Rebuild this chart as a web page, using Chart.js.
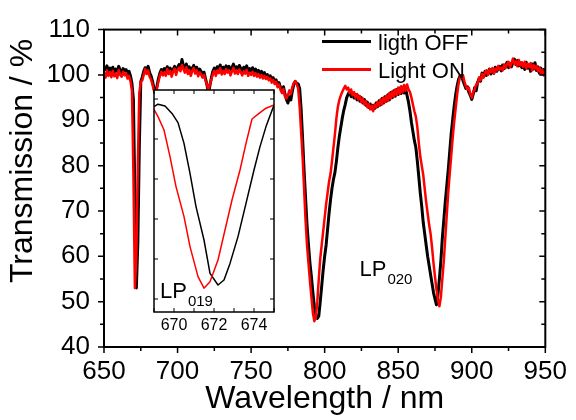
<!DOCTYPE html>
<html>
<head>
<meta charset="utf-8">
<script src="https://cdn.jsdelivr.net/npm/chart.js@4.4.1/dist/chart.umd.min.js"></script>
<style>
  body { margin: 0; background: #fff; }
  #wrap { position: relative; width: 576px; height: 420px; }
  #main { position: absolute; left: 0; top: 0; }
  #inset { position: absolute; left: 144px; top: 85px; }
</style>
</head>
<body>
<div id="wrap">
  <canvas id="main" width="576" height="420"></canvas>
  <canvas id="inset" width="140" height="255"></canvas>
</div>
<script>
// sampling grid of the spectra, 1 nm
var wavelength = [];
for (var w = 650; w <= 950; w++) wavelength.push(w);

// light OFF (black)
var transOff = [
  101.8, 101.2, 102.0, 100.9, 101.5, 101.0, 101.7, 100.6, 101.3, 100.8,
  101.9, 101.0, 100.5, 101.4, 100.9, 101.2, 100.2, 100.8, 99.8, 98.1,
  94.6, 73.0, 53.0, 63.0, 84.0, 98.5, 99.5, 100.8, 101.6, 101.0,
  101.9, 100.5, 99.8, 98.6, 97.0, 96.3, 97.5, 99.2, 100.4, 101.2,
  100.6, 101.4, 100.7, 101.8, 100.9, 101.5, 100.3, 101.2, 101.9, 100.8,
  101.6, 102.3, 101.5, 103.4, 102.0, 101.3, 102.4, 101.0, 101.8, 100.6,
  101.5, 102.1, 100.9, 101.7, 100.4, 101.3, 100.8, 99.9, 100.6, 99.2,
  97.8, 95.9, 97.6, 99.4, 100.8, 101.5, 100.6, 101.8, 101.1, 102.2,
  101.0, 101.7, 100.9, 102.0, 101.3, 101.9, 100.7, 101.6, 102.4, 101.2,
  101.8, 100.9, 102.1, 101.4, 100.8, 101.7, 101.1, 102.0, 100.6, 101.4,
  100.9, 101.6, 100.7, 101.3, 100.5, 101.0, 100.2, 100.8, 99.9, 100.5,
  99.7, 100.1, 99.3, 99.8, 98.9, 99.4, 98.5, 98.9, 97.8, 98.3,
  97.2, 96.6, 97.4, 95.8, 94.6, 93.8, 95.2, 94.5, 96.4, 97.9,
  98.6, 98.1, 98.0, 97.0, 92.5, 86.0, 79.0, 73.0, 67.0, 62.5,
  58.5, 55.5, 52.0, 49.0, 47.0, 46.3, 46.8, 50.0, 53.5, 57.0,
  60.0, 62.5, 66.0, 69.5, 72.5, 75.0, 77.0, 78.5, 81.0, 84.0,
  86.5, 88.5, 90.5, 92.2, 93.5, 95.0, 95.8, 96.4, 95.2, 96.0,
  94.9, 95.7, 94.5, 95.4, 94.2, 95.0, 93.8, 94.6, 93.3, 94.0,
  92.8, 93.6, 92.5, 93.3, 92.6, 93.8, 93.0, 94.3, 93.4, 94.8,
  93.8, 95.2, 94.2, 95.6, 94.5, 96.1, 95.0, 96.5, 95.3, 96.8,
  95.7, 97.1, 95.9, 97.3, 96.0, 97.0, 95.5, 94.0, 92.0, 89.5,
  87.5, 85.5, 84.0, 81.0, 77.5, 74.0, 71.0, 67.5, 65.0, 62.5,
  60.0, 58.0, 56.0, 54.0, 52.0, 50.6, 49.3, 51.5, 55.0, 59.0,
  64.0, 68.0, 72.0, 75.5, 79.0, 83.0, 87.0, 90.0, 93.0, 95.5,
  97.5, 99.0, 99.8, 99.8, 98.8, 97.9, 97.0, 97.4, 96.2, 95.5,
  94.6, 95.8, 97.2, 96.5, 98.4, 99.2, 98.6, 100.4, 99.6, 100.8,
  99.9, 100.6, 101.3, 100.2, 101.0, 100.4, 101.7, 100.8, 101.5, 101.9,
  100.9, 102.2, 101.4, 102.0, 102.8, 101.6, 102.5, 101.8, 102.9, 103.5,
  102.3, 103.2, 102.0, 102.7, 101.6, 102.5, 101.2, 102.8, 101.5, 102.2,
  100.8, 102.4, 101.3, 102.7, 101.0, 101.8, 100.4, 101.5, 100.3, 101.2,
  100.6
];

// light ON (red)
var transOn = [
  100.5, 99.4, 101.0, 99.8, 100.6, 99.5, 100.9, 99.7, 100.2, 99.3,
  101.1, 100.0, 99.6, 100.7, 99.9, 100.4, 99.2, 99.8, 98.6, 96.5,
  78.0, 53.0, 60.0, 80.0, 96.0, 98.5, 98.8, 100.0, 101.3, 100.2,
  101.0, 99.6, 99.0, 97.8, 96.5, 95.8, 97.0, 98.6, 99.8, 100.7,
  99.9, 100.6, 99.8, 101.3, 100.2, 100.9, 99.6, 100.7, 101.4, 100.0,
  101.1, 101.6, 100.8, 102.2, 101.3, 100.5, 101.7, 100.2, 101.1, 99.8,
  100.9, 101.5, 100.3, 101.0, 99.7, 100.6, 100.1, 99.4, 100.0, 98.8,
  97.9, 96.6, 97.9, 99.0, 100.2, 100.9, 99.8, 101.0, 100.4, 101.5,
  100.1, 100.9, 100.2, 101.3, 100.5, 101.0, 99.9, 100.8, 101.6, 100.3,
  101.0, 100.2, 101.2, 100.6, 99.9, 100.8, 100.3, 101.1, 99.8, 100.5,
  100.0, 100.7, 99.8, 100.4, 99.6, 100.2, 99.4, 100.0, 99.2, 99.8,
  99.1, 99.6, 98.8, 99.3, 98.3, 98.9, 98.0, 98.5, 97.3, 97.9,
  96.7, 96.0, 96.9, 95.3, 94.8, 95.5, 96.6, 95.8, 97.3, 98.2,
  98.6, 98.0, 97.0, 93.0, 87.5, 82.0, 75.0, 68.0, 62.5, 58.5,
  54.5, 51.0, 47.5, 45.7, 46.5, 50.0, 55.0, 59.5, 62.5, 65.5,
  68.5, 71.5, 74.0, 76.5, 78.2, 81.0, 84.0, 87.0, 90.5, 93.0,
  94.5, 95.5, 96.3, 97.0, 97.6, 96.8, 97.2, 96.0, 96.8, 95.5,
  96.2, 95.0, 95.8, 94.6, 95.3, 94.0, 94.8, 93.5, 94.2, 92.9,
  93.6, 92.4, 93.2, 92.0, 93.5, 92.8, 94.0, 93.2, 94.6, 93.5,
  95.0, 94.0, 95.4, 94.3, 96.0, 94.8, 96.4, 95.2, 96.8, 95.6,
  97.2, 95.8, 97.5, 96.2, 97.8, 96.5, 97.9, 96.8, 96.2, 95.0,
  93.5, 92.0, 90.8, 88.5, 85.0, 82.0, 80.0, 78.0, 75.0, 72.0,
  69.5, 67.0, 65.0, 62.0, 58.5, 55.5, 52.7, 50.5, 49.0, 51.0,
  55.0, 59.0, 64.0, 69.0, 74.0, 78.2, 82.0, 86.0, 89.5, 92.4,
  95.5, 98.0, 99.6, 99.5, 100.0, 98.6, 97.5, 96.8, 97.2, 95.8,
  95.0, 96.3, 96.8, 97.9, 98.0, 99.5, 98.8, 100.2, 99.4, 100.5,
  101.0, 100.0, 101.2, 100.6, 101.5, 100.3, 101.4, 101.0, 102.0, 101.2,
  101.6, 101.0, 102.3, 101.5, 102.4, 102.9, 101.7, 102.6, 103.6, 102.4,
  103.0, 101.9, 103.3, 102.1, 102.8, 101.8, 102.9, 101.4, 102.5, 101.7,
  102.6, 101.0, 102.2, 101.4, 102.0, 100.8, 101.6, 100.2, 101.1, 99.9,
  100.8
];

// inset: zoom on the LP019 dip
var insetOffX = [669.0, 669.2, 669.55, 669.9, 670.2, 670.5, 670.8, 671.1, 671.5, 671.8, 672.2, 672.5, 672.8, 673.2, 673.6, 674.0, 674.3, 674.6, 675.0];
var insetOffY = [98.1, 98.7, 98.25, 96.4, 94.1, 88.9, 81.4, 73.1, 64.75, 56.4, 53.5, 54.75, 58.9, 65.6, 73.9, 82.25, 88.1, 93.1, 98.5];
var insetOnX = [669.0, 669.2, 669.5, 669.8, 670.1, 670.5, 670.8, 671.2, 671.5, 671.8, 672.2, 672.55, 672.9, 673.3, 673.6, 673.9, 674.3, 674.6, 675.0];
var insetOnY = [97.4, 95.6, 92.25, 85.6, 78.1, 70.6, 63.1, 55.6, 52.7, 54.3, 59.75, 67.25, 74.75, 82.25, 88.9, 95.0, 96.6, 97.7, 98.5];

var seriesNames = ['ligth OFF', 'Light ON'];
var seriesColors = ['#000000', '#ff0000'];

var FONT = "'Liberation Sans', Arial, Helvetica, sans-serif";
Chart.defaults.font.family = FONT;
Chart.defaults.color = '#000';

function pts(xs, ys) {
  return xs.map(function (x, i) { return { x: x, y: ys[i] }; });
}

var framePlugin = {
  id: 'frame',
  beforeDraw: function (chart, args, o) {
    if (!o.fill) return;
    var a = chart.chartArea, ctx = chart.ctx;
    ctx.save();
    ctx.fillStyle = o.fill;
    ctx.fillRect(a.left, a.top, a.right - a.left, a.bottom - a.top);
    ctx.restore();
  },
  afterDraw: function (chart, args, o) {
    var ctx = chart.ctx, a = chart.chartArea, x = chart.scales.x, y = chart.scales.y;
    ctx.save();
    ctx.strokeStyle = '#000';
    ctx.lineWidth = o.tickWidth;
    ctx.beginPath();
    var out = o.outside ? 1 : -1;
    for (var v = Math.ceil(x.min / o.xMinor) * o.xMinor; v <= x.max + 1e-6; v += o.xMinor) {
      var px = x.getPixelForValue(v);
      var len = Math.abs(v / o.xMajor - Math.round(v / o.xMajor)) < 1e-6 ? o.major : o.minor;
      ctx.moveTo(px, a.bottom); ctx.lineTo(px, a.bottom + out * len);
      ctx.moveTo(px, a.top); ctx.lineTo(px, a.top + len);
    }
    for (var u = Math.ceil(y.min / o.yMinor) * o.yMinor; u <= y.max + 1e-6; u += o.yMinor) {
      var py = y.getPixelForValue(u);
      var l2 = Math.abs(u / o.yMajor - Math.round(u / o.yMajor)) < 1e-6 ? o.major : o.minor;
      ctx.moveTo(a.left, py); ctx.lineTo(a.left - out * l2, py);
      ctx.moveTo(a.right, py); ctx.lineTo(a.right - l2, py);
    }
    ctx.stroke();
    ctx.lineWidth = o.width;
    ctx.strokeRect(a.left, a.top, a.right - a.left, a.bottom - a.top);
    ctx.restore();
  }
};

function drawSub(ctx, x, y, main, sub, size, subSize) {
  ctx.font = size + 'px ' + FONT;
  ctx.fillText(main, x, y);
  var wm = ctx.measureText(main).width;
  ctx.font = subSize + 'px ' + FONT;
  ctx.fillText(sub, x + wm + 1, y + 8);
}

var mainNotes = {
  id: 'mainNotes',
  afterDraw: function (chart) {
    var ctx = chart.ctx, a = chart.chartArea, x = chart.scales.x, y = chart.scales.y;
    ctx.save();
    ctx.fillStyle = '#000';
    ctx.textBaseline = 'alphabetic';
    // legend
    chart.data.datasets.forEach(function (ds, i) {
      var ly = a.top + 12 + i * 28;
      ctx.strokeStyle = ds.borderColor;
      ctx.lineWidth = 3;
      ctx.beginPath();
      ctx.moveTo(322, ly); ctx.lineTo(371, ly);
      ctx.stroke();
      ctx.font = '22px ' + FONT;
      ctx.fillStyle = '#000';
      ctx.fillText(ds.label, 378, ly + 8);
    });
    // mode label
    drawSub(ctx, x.getPixelForValue(823.7), y.getPixelForValue(55.6), 'LP', '020', 22, 15);
    // y title
    ctx.translate(23, 161);
    ctx.rotate(-Math.PI / 2);
    ctx.font = '32px ' + FONT;
    ctx.textAlign = 'center';
    ctx.textBaseline = 'middle';
    ctx.fillText('Transmission / %', 0, 0);
    ctx.restore();
  }
};

new Chart(document.getElementById('main').getContext('2d'), {
  type: 'line',
  data: {
    datasets: [{
      label: seriesNames[0],
      data: pts(wavelength, transOff),
      borderColor: seriesColors[0],
      borderWidth: 3,
      order: 2
    }, {
      label: seriesNames[1],
      data: pts(wavelength, transOn),
      borderColor: seriesColors[1],
      borderWidth: 2.5,
      order: 1
    }]
  },
  options: {
    responsive: false,
    animation: false,
    devicePixelRatio: 1,
    elements: {
      point: { radius: 0 },
      line: { tension: 0, borderJoinStyle: 'round', fill: false }
    },
    layout: { padding: { left: 0, right: 26, top: 17, bottom: 0 } },
    plugins: {
      legend: { display: false },
      tooltip: { enabled: false },
      frame: { width: 2, tickWidth: 1.5, outside: true, major: 6, minor: 4, xMajor: 50, xMinor: 25, yMajor: 10, yMinor: 5 }
    },
    scales: {
      x: {
        type: 'linear', min: 650, max: 950,
        grid: { display: false, drawTicks: false },
        border: { display: false },
        ticks: { stepSize: 50, padding: 9, font: { size: 26 }, color: '#000', maxRotation: 0 },
        title: { display: true, text: 'Wavelength / nm', font: { size: 32 }, padding: { top: 0, bottom: 2 }, color: '#000' },
        afterFit: function (s) { s.height = 73; }
      },
      y: {
        min: 40, max: 110,
        grid: { display: false, drawTicks: false },
        border: { display: false },
        ticks: { stepSize: 10, padding: 14, font: { size: 26 }, color: '#000' },
        afterFit: function (s) { s.width = 104; }
      }
    }
  },
  plugins: [framePlugin, mainNotes]
});

var insetNotes = {
  id: 'insetNotes',
  afterDraw: function (chart) {
    var ctx = chart.ctx, x = chart.scales.x, y = chart.scales.y;
    ctx.save();
    ctx.fillStyle = '#000';
    drawSub(ctx, x.getPixelForValue(669.3), y.getPixelForValue(50.2), 'LP', '019', 22, 15);
    ctx.restore();
  }
};

new Chart(document.getElementById('inset').getContext('2d'), {
  type: 'line',
  data: {
    datasets: [{
      label: seriesNames[0],
      data: pts(insetOffX, insetOffY),
      borderColor: seriesColors[0],
      borderWidth: 1.5,
      order: 2
    }, {
      label: seriesNames[1],
      data: pts(insetOnX, insetOnY),
      borderColor: seriesColors[1],
      borderWidth: 1.5,
      order: 1
    }]
  },
  options: {
    responsive: false,
    animation: false,
    devicePixelRatio: 1,
    elements: {
      point: { radius: 0 },
      line: { tension: 0, borderJoinStyle: 'round', fill: false }
    },
    layout: { padding: { left: 10, right: 10, top: 5, bottom: 0 } },
    plugins: {
      legend: { display: false },
      tooltip: { enabled: false },
      frame: { fill: '#fff', width: 1.5, tickWidth: 1, outside: false, major: 4, minor: 4, xMajor: 1, xMinor: 1, yMajor: 10, yMinor: 10 }
    },
    scales: {
      x: {
        type: 'linear', min: 669, max: 675,
        grid: { display: false, drawTicks: false },
        border: { display: false },
        ticks: {
          stepSize: 1, autoSkip: false, maxRotation: 0, padding: 4, font: { size: 16 }, color: '#000',
          callback: function (v) { return v % 2 === 0 ? String(v) : ''; }
        },
        afterFit: function (s) { s.height = 28; }
      },
      y: { display: false, min: 46.75, max: 102.25 }
    }
  },
  plugins: [framePlugin, insetNotes]
});
</script>
</body>
</html>
